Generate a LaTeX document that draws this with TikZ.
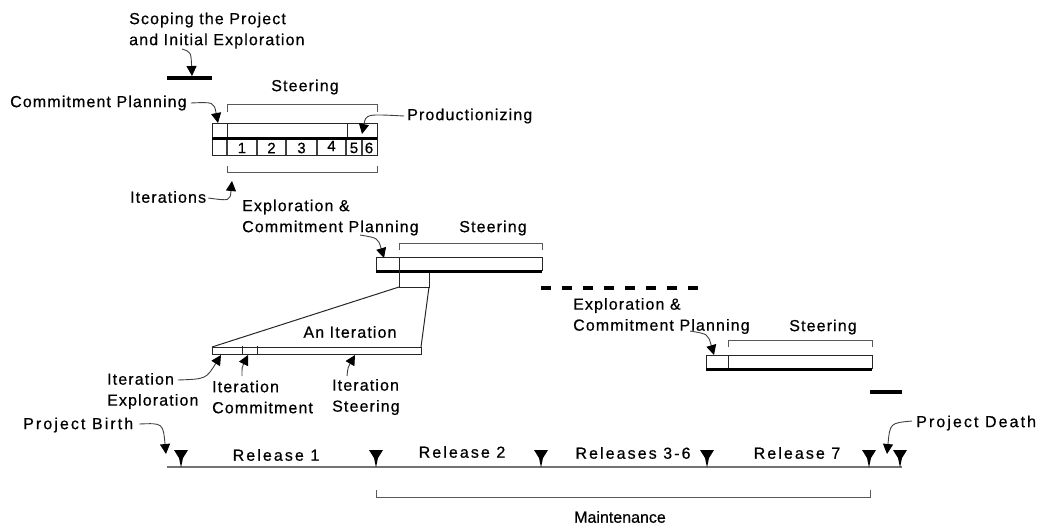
\documentclass[tikz,border=0pt]{standalone}
\usepackage{fontspec}
\setmainfont{Liberation Sans}[LetterSpace=7,FakeBold=0.6]
\newfontfamily\spacedfont{Liberation Sans}[LetterSpace=13,FakeBold=0.6]
\newfontfamily\plainfont{Liberation Sans}[FakeBold=0.6]
\usetikzlibrary{arrows.meta}
\begin{document}
\begin{tikzpicture}[x=1pt,y=-1pt,
  lbl/.style={inner sep=0pt, anchor=west, font=\fontsize{16}{21}\selectfont, align=left},
  ctr/.style={inner sep=0pt, font=\fontsize{16}{21}\selectfont},
  rel/.style={inner sep=0pt, font=\spacedfont\fontsize{16}{21}\selectfont},
  relw/.style={inner sep=0pt, anchor=west, font=\spacedfont\fontsize{16}{21}\selectfont},
  num/.style={inner sep=0pt, font=\plainfont\fontsize{15}{18}\selectfont},
  arr/.style={line width=0.9pt, black!75, -{Triangle[width=10pt,length=10pt,color=black,fill=black]}},
  brk/.style={line width=1pt, black!65},
  boxl/.style={line width=1pt, black!85},
  thickbar/.style={line width=4.5pt, black},
  trimark/.style={fill=black}
]
\useasboundingbox (0,0) rectangle (1040,525);

% ---------- Scoping
\node[lbl] (scope) at (129,30.5) {Scoping the Project\\and Initial Exploration};
\coordinate (scopeS) at (182,49);
\coordinate (scopeT) at (192,76);
\draw[arr] (scopeS) .. controls (191,52) .. (scopeT);
\draw[thickbar] (167,78) -- (212,78);

% ---------- Release 1 planning box
\node[lbl] (cp1) at (10,103) {Commitment Planning};
\coordinate (cp1T) at (218,123);
\draw[arr] (cp1.east) ++(4,0) coordinate (cp1S) .. controls (214,102) .. (cp1T);

\node[ctr] (st1) at (305,87) {Steering};
\draw[brk] (227,112) -- (227,104) -- (377,104) -- (377,112);

\draw[boxl] (212,123) rectangle (377,155);
\draw[line width=3.5pt] (212,138.5) -- (377,138.5);
\draw[boxl] (227,123) -- (227,137) (347,123) -- (347,137);
\foreach \x in {227,257,286,317,346,362} \draw[line width=1.3pt, black!75] (\x,140) -- (\x,155);
\node[num] (n1) at (242,148) {1};
\node[num] (n2) at (271.5,148) {2};
\node[num] (n3) at (301.5,148) {3};
\node[num] (n4) at (331.5,146) {4};
\node[num] (n5) at (354,148) {5};
\node[num] (n6) at (369,148) {6};

\node[lbl] (prod) at (407,116) {Productionizing};
\coordinate (prodT) at (362,134);
\draw[arr] (prod.west) ++(-3,0) coordinate (prodS) .. controls (366,114) .. (prodT);

\draw[brk] (227,166) -- (227,172) -- (377,172) -- (377,166);
\node[lbl] (iters) at (130,197) {Iterations};
\coordinate (itersT) at (232,181);
\draw[arr] (iters.east) ++(2,1) coordinate (itersS) .. controls (230,201) .. (itersT);

% ---------- Release 2 box
\node[lbl] (ecp2) at (242,217.5) {Exploration \&\\Commitment Planning};
\node[ctr] (st2) at (493,228) {Steering};
\draw[brk] (399,250) -- (399,243) -- (542,243) -- (542,250);
\draw[boxl] (376,257) rectangle (542,270);
\draw[line width=3pt] (376,271.5) -- (542,271.5);
\draw[boxl] (399,257) -- (399,287) -- (429,287) -- (429,273);
\coordinate (ecp2S) at (360,235);
\coordinate (ecp2T) at (384,258);
\draw[arr] (ecp2S) .. controls (378,238) .. (ecp2T);

% zoom to an iteration
\draw[boxl] (399,287) -- (212,347);
\draw[boxl] (429,287) -- (421,347);
\draw[boxl] (212,347) rectangle (421,354);
\draw[boxl] (242,346) -- (242,354) (257,346) -- (257,354);
\node[ctr] (aniter) at (350,332) {An Iteration};

\node[lbl] (ie) at (107,391) {Iteration\\Exploration};
\coordinate (ieS) at (178,380);
\coordinate (ieT) at (221,355);
\draw[arr] (ieS) .. controls (206,379) .. (ieT);

\node[lbl] (ic) at (212,397) {Iteration\\Commitment};
\coordinate (icS) at (242,376);
\coordinate (icT) at (248,355);
\draw[arr] (icS) .. controls (242,367) .. (icT);

\node[lbl] (is) at (332,397) {Iteration\\Steering};
\coordinate (isS) at (347,376);
\coordinate (isT) at (355,355);
\draw[arr] (isS) .. controls (348,367) .. (isT);

% dashed continuation
\draw[line width=4pt, dash pattern=on 10pt off 11pt] (541,288) -- (698,288);

% ---------- Release 7 box
\node[lbl] (ecp3) at (573,316) {Exploration \&\\Commitment Planning};
\node[ctr] (st3) at (823,327) {Steering};
\draw[brk] (728,347) -- (728,340) -- (872,340) -- (872,347);
\draw[boxl] (706,355) rectangle (872,368);
\draw[line width=3pt] (706,369.5) -- (872,369.5);
\draw[boxl] (728,355) -- (728,368);
\coordinate (ecp3S) at (690,331);
\coordinate (ecp3T) at (714,355);
\draw[arr] (ecp3S) .. controls (708,334) .. (ecp3T);

\draw[line width=4pt] (870,392) -- (902,392);

% ---------- Timeline
\draw[line width=2pt, black!55] (167,467) -- (902,467);
\foreach \x in {181,376,541,707,869,900}
  \fill[trimark] (\x-7,450) -- (\x+7,450) -- (\x+2,458) -- (\x,467.5) -- (\x-2,458) -- cycle;

\node[relw] (birth) at (23,425) {Project Birth};
\coordinate (birthT) at (166,454);
\draw[arr] (birth.east) ++(6,-1) coordinate (birthS) .. controls (163,423) .. (birthT);

\node[relw] (death) at (916,423) {Project Death};
\coordinate (deathT) at (887,454);
\draw[arr] (death.west) ++(-4,-2) coordinate (deathS) .. controls (890,423) .. (deathT);

\node[rel] (r1) at (276,455) {Release 1};
\node[rel] (r2) at (462,452) {Release 2};
\node[rel] (r36) at (633,453) {Releases 3-6};
\node[rel] (r7) at (797,453) {Release 7};

\draw[brk] (376,490) -- (376,497) -- (870,497) -- (870,490);
\node[inner sep=0pt, font=\plainfont\fontsize{16}{21}\selectfont] (maint) at (620,517) {Maintenance};
\end{tikzpicture}
\end{document}
